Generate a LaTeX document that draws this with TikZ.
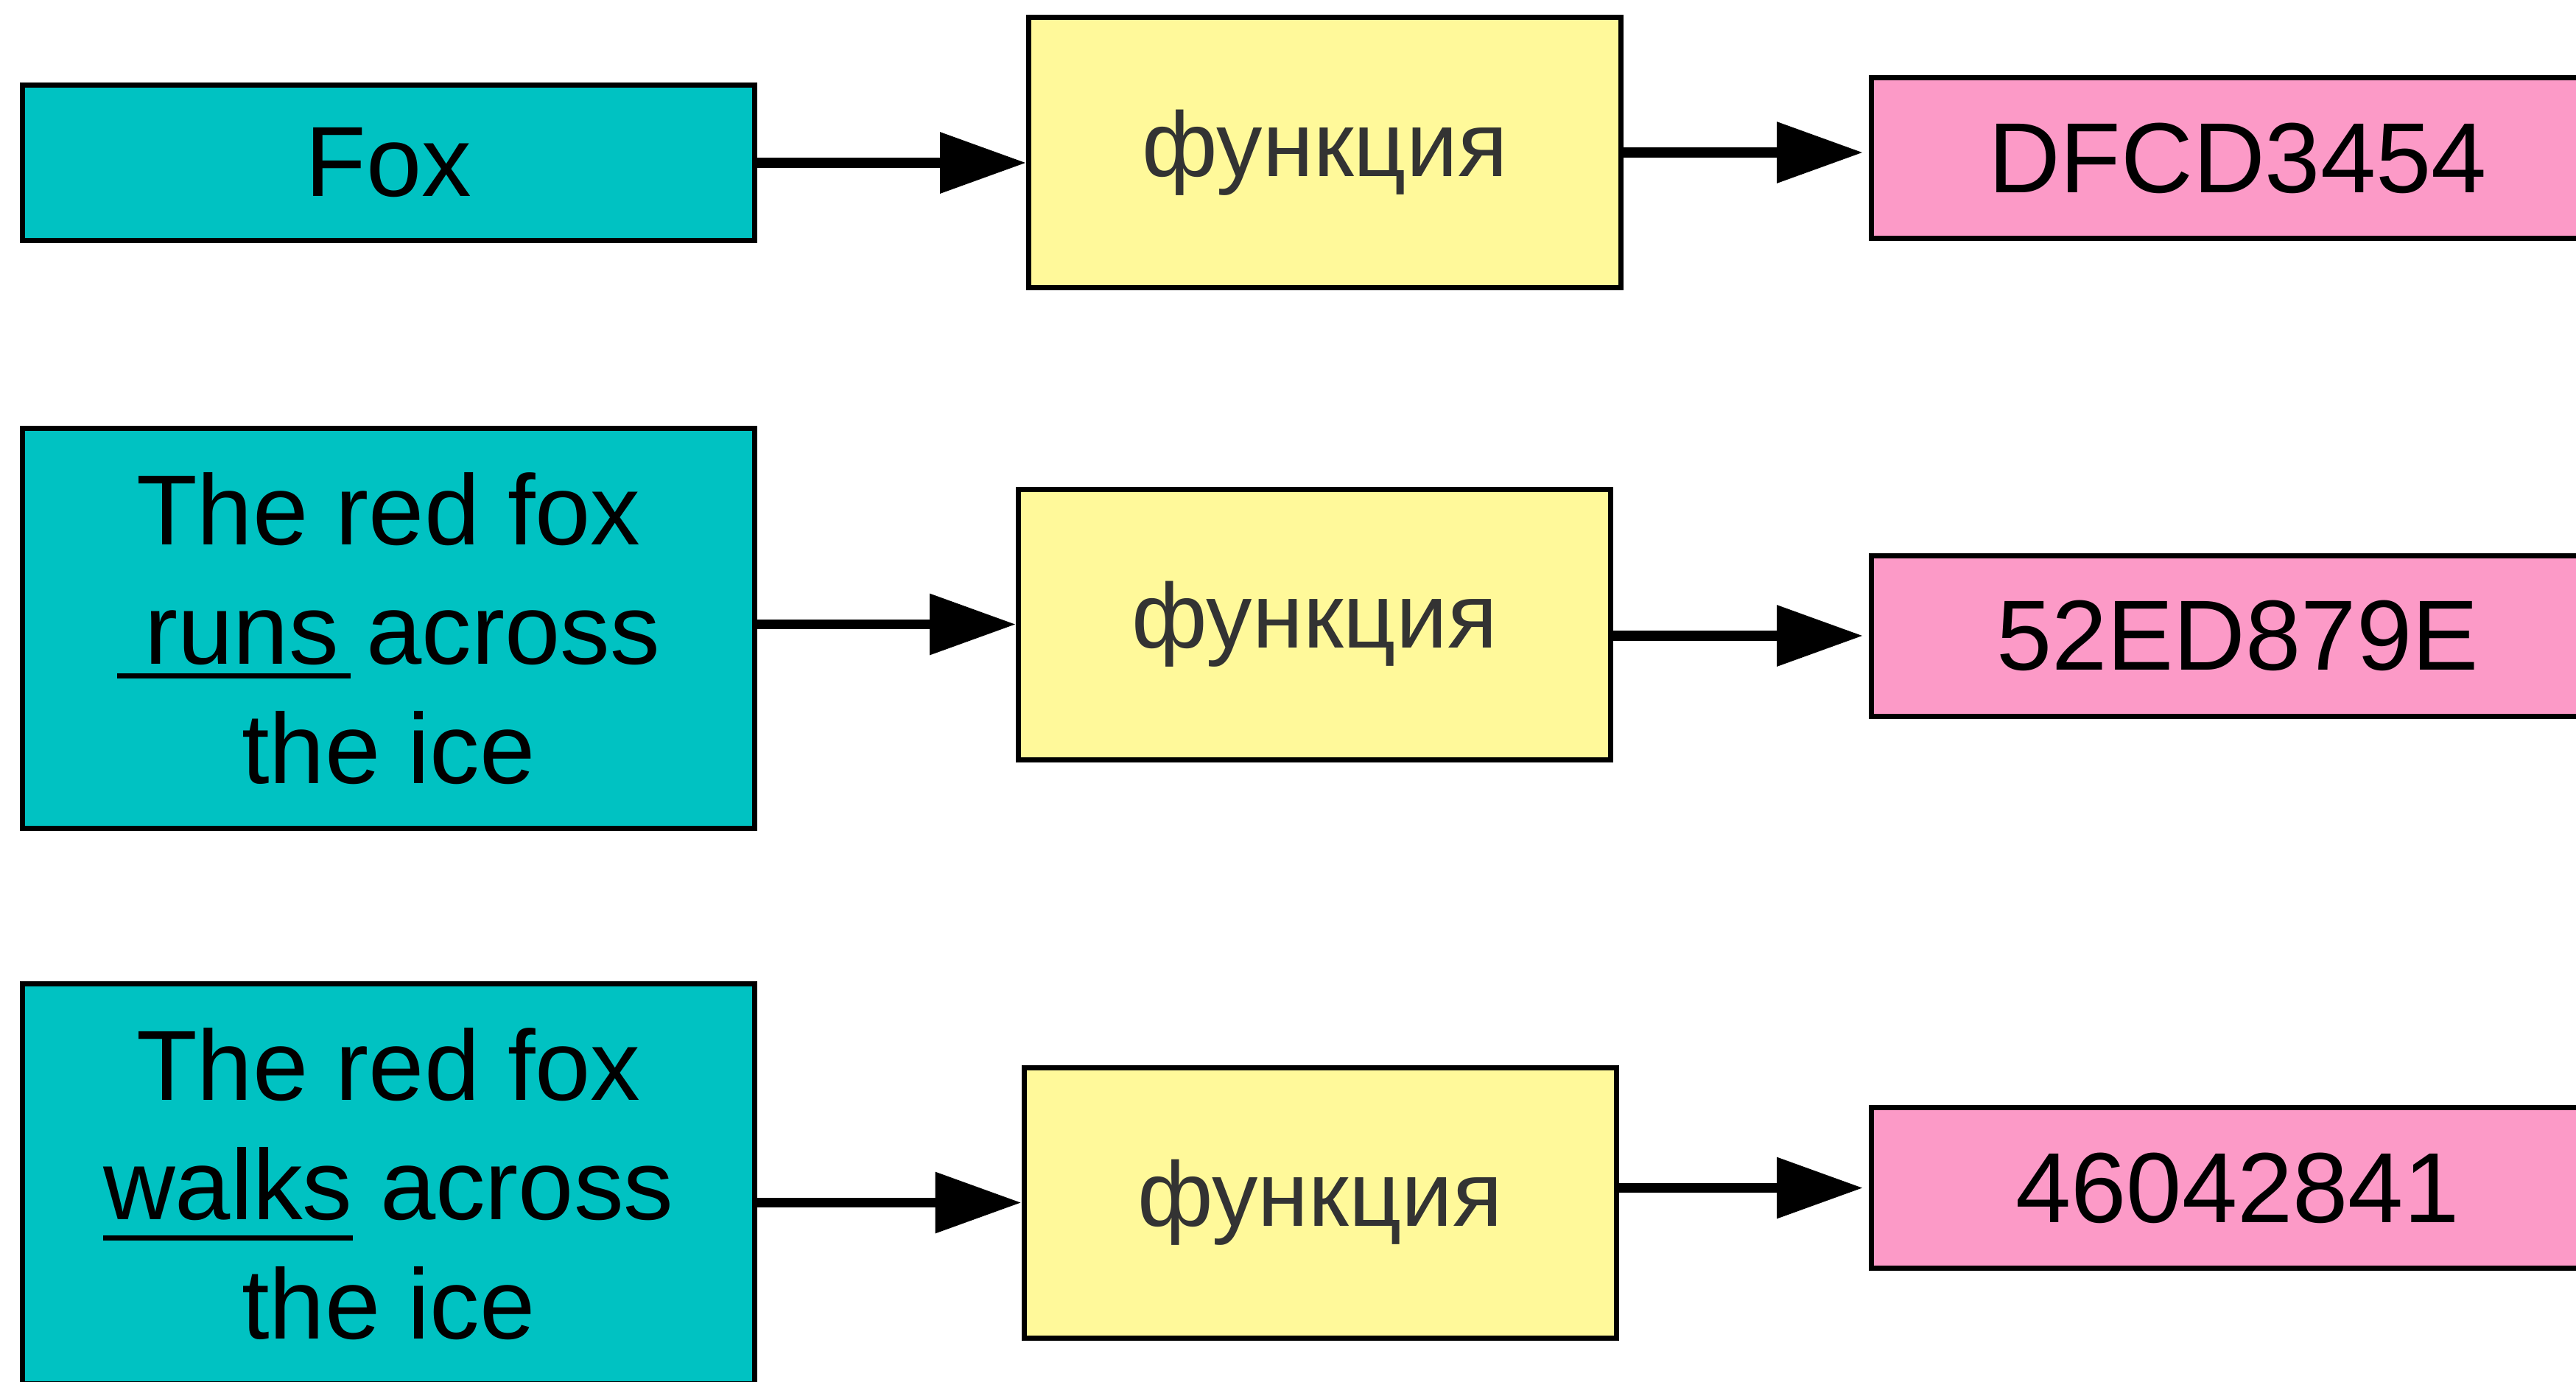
\documentclass[tikz,border=0pt]{standalone}
\usepackage{fontspec}
\setmainfont{Liberation Sans}
\usetikzlibrary{arrows.meta}

\definecolor{boxcyan}{HTML}{00C2C2}
\definecolor{boxyellow}{HTML}{FFF99A}
\definecolor{boxpink}{HTML}{FC9AC7}
\definecolor{fntext}{HTML}{333333}

\newcommand{\ulword}[2]{\setbox0\hbox{#2}\rlap{\rule[-#1]{\wd0}{0.075cm}}\box0}

\begin{document}
\begin{tikzpicture}[
    inbox/.style={draw, fill=boxcyan, line width=0.07cm, minimum width=9.94cm, inner sep=0pt, align=center, font=\fontsize{38.5}{46}\selectfont},
    fnbox/.style={draw, fill=boxyellow, line width=0.07cm, minimum width=8.04cm, minimum height=3.67cm, inner sep=0pt, text=fntext, font=\fontsize{35.5}{42}\selectfont},
    outbox/.style={draw, fill=boxpink, line width=0.07cm, minimum width=9.94cm, minimum height=2.18cm, inner sep=0pt, font=\fontsize{38.5}{46}\selectfont},
    arr/.style={-{Triangle[length=1.17cm, width=0.8cm]}, line width=0.135cm}
]
    \useasboundingbox (0,0) rectangle (34.97,-18.75);

    \node[inbox, minimum height=2.11cm] (in1) at (5.275,-2.21) {Fox};
    \node[inbox, minimum height=5.43cm] (in2) at (5.275,-8.53) {The red fox\\\ulword{0.2cm}{\ runs\kern0.16cm}\kern-0.16cm\ across\\the ice};
    \node[inbox, minimum height=5.43cm] (in3) at (5.275,-16.07) {The red fox\\\ulword{0.29cm}{walks}\ across\\the ice};

    \node[fnbox] (fn1) at (17.985,-2.07) {функция};
    \node[fnbox] (fn2) at (17.845,-8.475) {функция};
    \node[fnbox] (fn3) at (17.92,-16.325) {функция};

    \node[outbox] (out1) at (30.375,-2.145) {DFCD3454};
    \node[outbox] (out2) at (30.375,-8.63) {52ED879E};
    \node[outbox] (out3) at (30.375,-16.125) {46042841};

    \draw[arr] (in1.east) -- (in1.east -| fn1.west);
    \draw[arr] (fn2.west -| in2.east) -- (fn2.west);
    \draw[arr] (fn3.west -| in3.east) -- (fn3.west);

    \draw[arr, shorten >=0.08cm] (fn1.east) -- (fn1.east -| out1.west);
    \draw[arr, shorten >=0.08cm] (out2.west -| fn2.east) -- (out2.west);
    \draw[arr, shorten >=0.08cm] (out3.west -| fn3.east) -- (out3.west);

\end{tikzpicture}
\end{document}
